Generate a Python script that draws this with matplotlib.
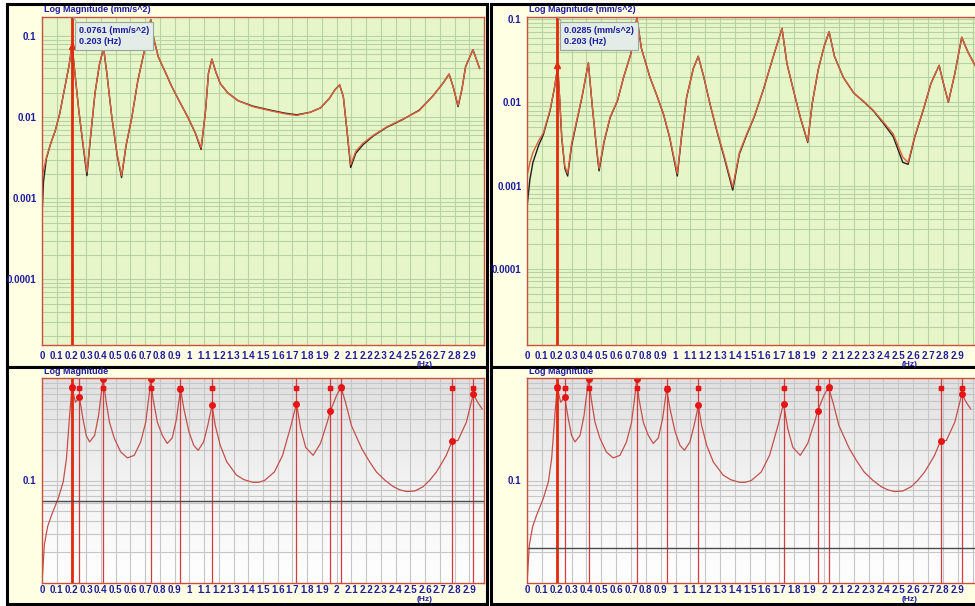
import numpy as np
import matplotlib
matplotlib.use("Agg")
import matplotlib.pyplot as plt
from matplotlib.patches import Rectangle
from matplotlib.lines import Line2D
from matplotlib.ticker import LogLocator, NullFormatter
from matplotlib.colors import LinearSegmentedColormap

plt.rcParams['font.family'] = ['Liberation Sans', 'DejaVu Sans']
plt.rcParams['font.weight'] = 'bold'

# --- top left: FRF magnitude, measured (black) and fitted (red) ---
tl_freq = [0.0, 0.01, 0.03, 0.06, 0.09, 0.12, 0.16, 0.185, 0.204, 0.22, 0.25, 0.28, 0.305, 0.33,
           0.36, 0.39, 0.418, 0.44, 0.474, 0.51, 0.54, 0.57, 0.61, 0.65, 0.69, 0.72, 0.738, 0.76,
           0.79, 0.84, 0.88, 0.93, 0.99, 1.04, 1.08, 1.11, 1.13, 1.153, 1.18, 1.21, 1.26, 1.33,
           1.43, 1.55, 1.65, 1.73, 1.82, 1.89, 1.95, 1.99, 2.02, 2.045, 2.07, 2.095, 2.13, 2.18,
           2.25, 2.34, 2.45, 2.56, 2.65, 2.72, 2.763, 2.79, 2.824, 2.85, 2.875, 2.925, 2.97]
tl_fit = [0.0019, 0.0022, 0.0032, 0.0048, 0.0068, 0.011, 0.026, 0.045, 0.077, 0.04, 0.012, 0.0045,
          0.0021, 0.006, 0.02, 0.045, 0.071, 0.035, 0.01, 0.0035, 0.0019, 0.0045, 0.01, 0.028,
          0.06, 0.11, 0.16, 0.09, 0.055, 0.035, 0.024, 0.016, 0.01, 0.0065, 0.0042, 0.012, 0.035,
          0.052, 0.036, 0.026, 0.02, 0.016, 0.0135, 0.012, 0.011, 0.0105, 0.0115, 0.013, 0.017,
          0.022, 0.025, 0.018, 0.007, 0.0026, 0.0038, 0.0048, 0.006, 0.0076, 0.0095, 0.012, 0.018,
          0.026, 0.034, 0.024, 0.014, 0.022, 0.042, 0.068, 0.04]
tl_meas = [0.0006, 0.0016, 0.0031, 0.0048, 0.0068, 0.011, 0.026, 0.045, 0.077, 0.04, 0.012, 0.0043,
           0.0019, 0.0058, 0.02, 0.045, 0.071, 0.035, 0.01, 0.0034, 0.0018, 0.0044, 0.01, 0.028,
           0.06, 0.11, 0.16, 0.09, 0.055, 0.035, 0.024, 0.016, 0.01, 0.0064, 0.004, 0.012, 0.035,
           0.052, 0.036, 0.026, 0.02, 0.016, 0.0137, 0.0122, 0.0112, 0.0107, 0.0115, 0.013, 0.017,
           0.022, 0.025, 0.018, 0.0068, 0.0024, 0.0036, 0.0046, 0.0059, 0.0075, 0.0094, 0.0122,
           0.018, 0.026, 0.034, 0.024, 0.0135, 0.022, 0.042, 0.068, 0.04]

# --- top right ---
tr_freq = [0.0, 0.02, 0.04, 0.08, 0.11, 0.155, 0.185, 0.207, 0.22, 0.234, 0.255, 0.274, 0.30, 0.335,
           0.37, 0.413, 0.44, 0.47, 0.485, 0.52, 0.56, 0.61, 0.65, 0.70, 0.74, 0.77, 0.828, 0.87,
           0.918, 0.96, 1.012, 1.04, 1.075, 1.12, 1.153, 1.19, 1.232, 1.28, 1.33, 1.385, 1.43, 1.48,
           1.53, 1.59, 1.65, 1.717, 1.75, 1.79, 1.84, 1.89, 1.92, 1.96, 2.0, 2.034, 2.07, 2.13, 2.2,
           2.27, 2.33, 2.40, 2.465, 2.53, 2.566, 2.61, 2.667, 2.72, 2.775, 2.80, 2.837, 2.88, 2.927,
           2.97, 3.017]
tr_fit = [0.0013, 0.0019, 0.0025, 0.0035, 0.0043, 0.0081, 0.015, 0.027, 0.011, 0.0039, 0.0017,
          0.0014, 0.0032, 0.0061, 0.0117, 0.030, 0.0089, 0.0027, 0.0016, 0.0035, 0.0067, 0.0107,
          0.02, 0.039, 0.105, 0.045, 0.02, 0.0128, 0.0074, 0.0039, 0.0014, 0.0039, 0.0117, 0.0257,
          0.036, 0.0204, 0.0097, 0.0045, 0.0022, 0.00096, 0.0025, 0.0042, 0.0068, 0.014, 0.032,
          0.078, 0.0295, 0.015, 0.0067, 0.0034, 0.0097, 0.0245, 0.047, 0.071, 0.036, 0.02, 0.013,
          0.0102, 0.0081, 0.0058, 0.0042, 0.0022, 0.0019, 0.0039, 0.0081, 0.017, 0.028, 0.018,
          0.0102, 0.022, 0.061, 0.04, 0.028]
tr_meas = [0.00055, 0.0012, 0.0019, 0.0031, 0.0041, 0.0079, 0.015, 0.027, 0.011, 0.0037, 0.0016,
           0.0013, 0.003, 0.0059, 0.0115, 0.030, 0.0088, 0.0026, 0.0015, 0.0034, 0.0066, 0.0106,
           0.02, 0.039, 0.105, 0.045, 0.02, 0.0127, 0.0073, 0.0038, 0.0013, 0.0038, 0.0116, 0.0257,
           0.036, 0.0204, 0.0096, 0.0044, 0.0021, 0.00088, 0.0024, 0.0041, 0.0067, 0.014, 0.032,
           0.078, 0.0295, 0.015, 0.0066, 0.0033, 0.0096, 0.0245, 0.047, 0.071, 0.036, 0.02, 0.013,
           0.0101, 0.008, 0.0056, 0.0039, 0.0019, 0.0018, 0.0038, 0.008, 0.017, 0.028, 0.018,
           0.0101, 0.022, 0.061, 0.04, 0.028]

# --- bottom: mode indicator curve (same in both columns) ---
mif_freq = [0.0, 0.016, 0.038, 0.065, 0.11, 0.144, 0.166, 0.189, 0.203, 0.227, 0.254, 0.278, 0.30,
            0.323, 0.357, 0.384, 0.406, 0.415, 0.436, 0.458, 0.49, 0.534, 0.58, 0.626, 0.67, 0.704,
            0.727, 0.738, 0.754, 0.783, 0.817, 0.85, 0.884, 0.913, 0.94, 0.963, 0.997, 1.03, 1.06,
            1.097, 1.125, 1.154, 1.176, 1.21, 1.254, 1.32, 1.37, 1.43, 1.47, 1.51, 1.577, 1.633,
            1.69, 1.727, 1.756, 1.79, 1.84, 1.89, 1.936, 1.958, 2.0, 2.03, 2.06, 2.10, 2.17, 2.22,
            2.27, 2.33, 2.385, 2.43, 2.475, 2.53, 2.587, 2.63, 2.677, 2.71, 2.744, 2.785, 2.823,
            2.88, 2.928, 2.957, 2.987]
mif_val = [0.01, 0.0236, 0.0355, 0.046, 0.067, 0.097, 0.164, 0.46, 0.81, 0.58, 0.65, 0.40, 0.275,
           0.238, 0.275, 0.43, 0.78, 0.97, 0.58, 0.37, 0.26, 0.19, 0.166, 0.176, 0.238, 0.37, 0.68,
           0.97, 0.625, 0.37, 0.275, 0.23, 0.26, 0.40, 0.78, 0.50, 0.30, 0.22, 0.197, 0.238, 0.344,
           0.54, 0.344, 0.22, 0.152, 0.113, 0.102, 0.096, 0.096, 0.10, 0.121, 0.176, 0.344, 0.56,
           0.32, 0.21, 0.176, 0.23, 0.37, 0.48, 0.68, 0.81, 0.58, 0.344, 0.205, 0.155, 0.121, 0.1,
           0.087, 0.081, 0.078, 0.079, 0.087, 0.1, 0.121, 0.145, 0.176, 0.245, 0.245, 0.37, 0.70,
           0.58, 0.50]

mode_freq = [0.203, 0.254, 0.415, 0.738, 0.94, 1.154, 1.727, 1.958, 2.03, 2.785, 2.928]
mode_mif = [0.81, 0.65, 0.97, 0.97, 0.78, 0.54, 0.56, 0.48, 0.81, 0.245, 0.70]
mode_flag = 0.8

cursor_freq = 0.203
cursor_val = [0.0761, 0.0285]
mif_threshold = [0.063, 0.022]

W, H = 975, 606
NAVY = '#1c1c9e'
CREAM = '#ffffe4'
FRAME = '#c8503c'
CURSOR = '#e42a0c'
MODE = '#d23c3c'
TOP_BG = '#e6f6c8'
TOP_GRID = '#b9d2a4'
BOT_GRID = '#c6c6c6'


def rect(l, t, r, b):
    return [l / W, 1 - b / H, (r - l) / W, (b - t) / H]


def fpt(x, y):
    return x / W, 1 - y / H


fig = plt.figure(figsize=(W / 100, H / 100), dpi=100)
fig.patch.set_facecolor('white')

for l, t, r, b in [(7, 4, 487, 367), (491, 4, 990, 367), (7, 367, 487, 604), (491, 367, 990, 604)]:
    fig.add_artist(Rectangle(fpt(l, b), (r - l) / W, (b - t) / H, transform=fig.transFigure,
                             fc=CREAM, ec='black', lw=2.2, zorder=-10))

xticks = np.round(np.arange(0, 3.01, 0.1), 1)


def style(ax, xmax, ylim, yticks, grid, xpad):
    ax.set_yscale('log')
    ax.set_xlim(0, xmax)
    ax.set_ylim(*ylim)
    ax.set_xticks(xticks)
    ax.set_xticklabels([f'{v:g}' if v < xmax - 0.06 else '' for v in xticks])
    ax.set_yticks(yticks)
    ax.set_yticklabels([f'{v:g}' for v in yticks])
    ax.yaxis.set_minor_locator(LogLocator(base=10, subs=np.arange(2, 10)))
    ax.yaxis.set_minor_formatter(NullFormatter())
    ax.tick_params(which='both', length=0, labelsize=7, labelcolor=NAVY)
    ax.tick_params(axis='x', pad=xpad)
    ax.tick_params(axis='y', pad=4)
    ax.grid(True, which='major', axis='x', color=grid, lw=0.8)
    ax.grid(True, which='both', axis='y', color=grid, lw=0.8)
    ax.set_axisbelow(True)
    for s in ax.spines.values():
        s.set_color(FRAME)
        s.set_linewidth(1.0)


cols = [
    dict(l=42, r=484, xmax=2.976, f=tl_freq, fit=tl_fit, meas=tl_meas,
         ylim=(1.55e-5, 0.172), cur=cursor_val[0], thr=mif_threshold[0]),
    dict(l=527, r=980, xmax=3.05, f=tr_freq, fit=tr_fit, meas=tr_meas,
         ylim=(1.2e-5, 0.107), cur=cursor_val[1], thr=mif_threshold[1]),
]

grad_cmap = LinearSegmentedColormap.from_list('g', ['#e0e0e0', '#f2f2f2', '#ffffff'])

for c in cols:
    # top: frequency response
    ax = fig.add_axes(rect(c['l'], 17, c['r'], 345))
    ax.set_facecolor(TOP_BG)
    style(ax, c['xmax'], c['ylim'], [1e-4, 1e-3, 1e-2, 1e-1], TOP_GRID, 4)
    ax.plot(c['f'], c['meas'], color='#1e1e1e', lw=1.0)
    ax.plot(c['f'], c['fit'], color='#e0603c', lw=1.0)
    ax.axvline(cursor_freq, color=CURSOR, lw=2)
    ax.plot([cursor_freq], [c['cur']], marker='^', color=CURSOR, ms=5)

    x0 = c['l'] + 34
    fig.add_artist(Line2D([(c['l'] + 31) / W, x0 / W], [1 - 17 / H, 1 - 21 / H],
                          transform=fig.transFigure, color='#9aa6a0', lw=0.8))
    fig.text(*fpt(x0 + 3, 26), f"{c['cur']:.4f} (mm/s^2)\n{cursor_freq:.3f} (Hz)",
             ha='left', va='top', fontsize=6.5, color=NAVY, linespacing=1.3,
             bbox=dict(boxstyle='square,pad=0.45', fc='#e3ece6', ec='#9aa6a0', lw=0.8))
    fig.text(*fpt(c['l'] + 2, 10), 'Log Magnitude (mm/s^2)', ha='left', va='center',
             fontsize=6.5, color=NAVY)
    fig.text(*fpt(c['l'] + 383, 364), '(Hz)', ha='center', va='center', fontsize=6, color=NAVY)

    # bottom: mode indicator
    ax_bg = fig.add_axes(rect(c['l'], 378, c['r'], 583))
    ax_bg.imshow(np.linspace(0, 1, 256).reshape(-1, 1), aspect='auto', cmap=grad_cmap,
                 extent=(0, 1, 0, 1))
    ax_bg.axis('off')
    axb = fig.add_axes(rect(c['l'], 378, c['r'], 583))
    axb.set_facecolor('none')
    style(axb, c['xmax'], (0.01, 1.0), [0.1], BOT_GRID, 1.5)
    axb.plot(mif_freq, mif_val, color='#c4504a', lw=0.9)
    for fq in mode_freq:
        axb.axvline(fq, color=MODE, lw=0.9)
    axb.axvline(cursor_freq, color=CURSOR, lw=2)
    axb.axhline(c['thr'], color='#4a4a4a', lw=1.0)
    axb.plot(mode_freq, mode_mif, 'o', color='#e61414', ms=4)
    axb.errorbar(mode_freq, [mode_flag] * len(mode_freq), xerr=0.012, fmt='s', ms=3.5,
                 color='#e61414', capsize=1.5, elinewidth=0.8)
    fig.text(*fpt(c['l'] + 2, 372), 'Log Magnitude', ha='left', va='center', fontsize=6.5,
             color=NAVY)
    fig.text(*fpt(c['l'] + 383, 599.5), '(Hz)', ha='center', va='center', fontsize=6,
             color=NAVY)

fig.savefig('out.png', dpi=100, facecolor='white')
